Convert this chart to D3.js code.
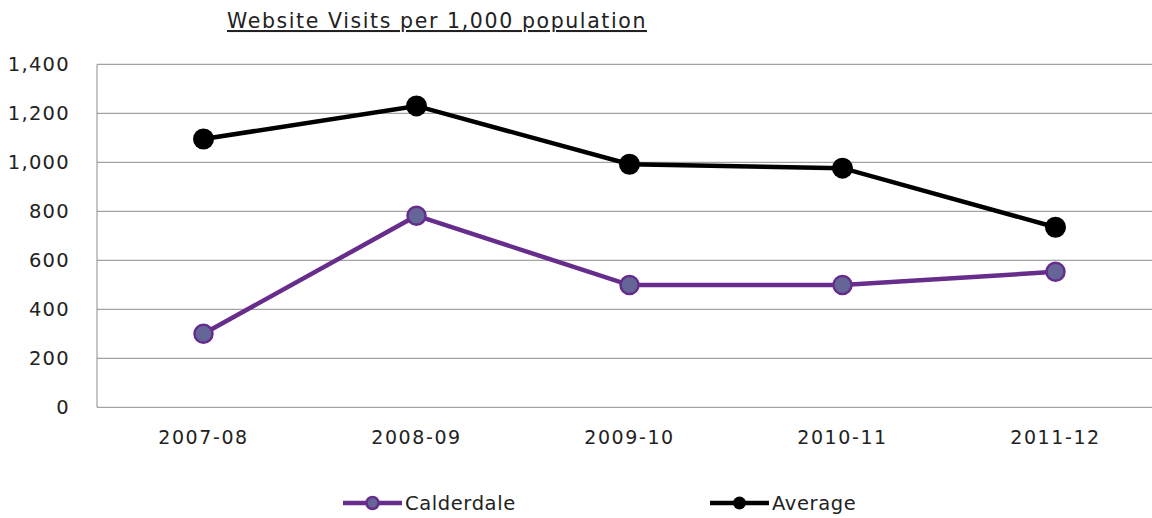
<!DOCTYPE html>
<html>
<head>
<meta charset="utf-8">
<script src="https://cdn.jsdelivr.net/npm/d3@7"></script>
<style>
  body { margin: 0; background: #fff; }
  text { font-family: "DejaVu Sans", sans-serif; fill: #222; }
</style>
</head>
<body>
<div id="chart"></div>
<script>
const years = ['2007-08', '2008-09', '2009-10', '2010-11', '2011-12'];
const calderdale = [300, 782, 499, 499, 553];
const average = [1095, 1230, 992, 976, 735];
const yTicks = [0, 200, 400, 600, 800, 1000, 1200, 1400];

const width = 1152;
const height = 518;
const margin = { top: 64.3, bottom: 110.7, left: 97, right: -10 };

const svg = d3.select('#chart')
  .append('svg')
  .attr('width', width)
  .attr('height', height);

const x = d3.scaleBand()
  .domain(years)
  .range([margin.left, width - margin.right]);

const y = d3.scaleLinear()
  .domain([0, 1400])
  .range([height - margin.bottom, margin.top]);

// gridlines
svg.append('g')
  .selectAll('line')
  .data(yTicks)
  .enter()
  .append('line')
  .attr('x1', margin.left)
  .attr('x2', width)
  .attr('y1', d => y(d))
  .attr('y2', d => y(d))
  .attr('stroke', '#8c8c8c')
  .attr('stroke-width', 1);

// left axis line
svg.append('line')
  .attr('x1', margin.left).attr('x2', margin.left)
  .attr('y1', y(0)).attr('y2', y(1400))
  .attr('stroke', '#8c8c8c');

function yAxis(g) {
  g.attr('transform', `translate(${margin.left},0)`)
    .call(d3.axisLeft(y).tickValues(yTicks).tickSize(0).tickPadding(27).tickFormat(d3.format(',')))
    .call(g => g.select('.domain').remove())
    .selectAll('text')
    .attr('font-size', '19.5px')
    .style('letter-spacing', '1.3px')
    .attr('fill', '#222');
}

function xAxis(g) {
  g.attr('transform', `translate(0,${y(0)})`)
    .call(d3.axisBottom(x).tickSize(0).tickPadding(23))
    .call(g => g.select('.domain').remove())
    .selectAll('text')
    .attr('font-size', '19px')
    .style('letter-spacing', '1.6px')
    .attr('fill', '#222');
}

svg.append('g').call(xAxis);
svg.append('g').call(yAxis);

const cx = d => x(d) + x.bandwidth() / 2;

const line = d3.line()
  .x((d, i) => cx(years[i]))
  .y(d => y(d));

// Average series
svg.append('path')
  .datum(average)
  .attr('d', line)
  .attr('fill', 'none')
  .attr('stroke', '#000')
  .attr('stroke-width', 4.5);

svg.append('g')
  .selectAll('circle')
  .data(average)
  .enter()
  .append('circle')
  .attr('cx', (d, i) => cx(years[i]))
  .attr('cy', d => y(d))
  .attr('r', 10.5)
  .attr('fill', '#000');

// Calderdale series
svg.append('path')
  .datum(calderdale)
  .attr('d', line)
  .attr('fill', 'none')
  .attr('stroke', '#662d8c')
  .attr('stroke-width', 4.5);

svg.append('g')
  .selectAll('circle')
  .data(calderdale)
  .enter()
  .append('circle')
  .attr('cx', (d, i) => cx(years[i]))
  .attr('cy', d => y(d))
  .attr('r', 9)
  .attr('fill', '#656698')
  .attr('stroke', '#662d8c')
  .attr('stroke-width', 2.5);

// title
svg.append('text')
  .attr('x', 227)
  .attr('y', 28)
  .attr('font-size', '20.5px')
  .style('letter-spacing', '1.6px')
  .attr('text-decoration', 'underline')
  .attr('fill', '#222')
  .text('Website Visits per 1,000 population');

// legend
const legend = [
  { name: 'Calderdale', x: 343, stroke: '#662d8c', fill: '#656698', r: 6, sw: 2.5 },
  { name: 'Average', x: 710, stroke: '#000', fill: '#000', r: 6.5, sw: 0 }
];
const lg = svg.append('g').selectAll('g').data(legend).enter().append('g')
  .attr('transform', d => `translate(${d.x},503)`);
lg.append('line')
  .attr('x1', 0).attr('x2', 59)
  .attr('stroke', d => d.stroke)
  .attr('stroke-width', 4.5);
lg.append('circle')
  .attr('cx', 29.5)
  .attr('r', d => d.r)
  .attr('fill', d => d.fill)
  .attr('stroke', d => d.stroke)
  .attr('stroke-width', d => d.sw);
lg.append('text')
  .attr('x', 62)
  .attr('dy', '0.35em')
  .attr('font-size', '19.5px')
  .style('letter-spacing', '0.6px')
  .attr('fill', '#222')
  .text(d => d.name);
</script>
</body>
</html>
